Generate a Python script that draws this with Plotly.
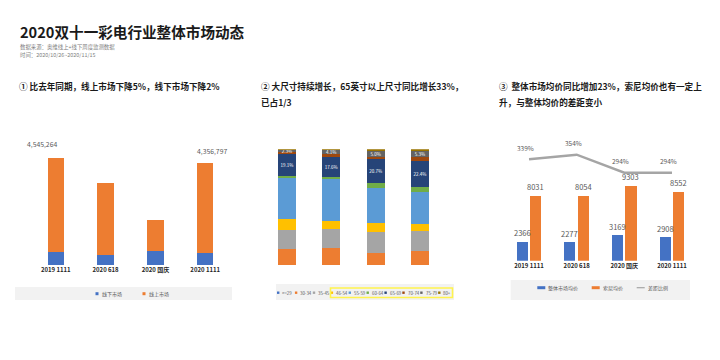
import plotly.graph_objects as go

# ---------------- data ----------------
categories = ["2019 1111", "2020 618", "2020 国庆", "2020 1111"]

# panel 1: market volume (units)
offline_units = [540000, 440000, 595000, 525000]
online_units = [4005264, 3073000, 1330000, 3831797]
total_label_idx = [0, 3]

# panel 2: size share (%)
size_labels = ["<=29", "30-34", "35-45", "46-54", "55-59", "60-64", "65-69", "70-74", "75-79", "80+"]
share_le29 = [0.3, 0.3, 0.3, 0.3]
share_30_34 = [13.2, 14.2, 10.2, 11.7]
share_35_45 = [17.0, 17.0, 17.8, 17.0]
share_46_54 = [9.0, 6.5, 8.0, 6.4]
share_55_59 = [36.0, 36.0, 30.0, 27.7]
share_60_64 = [1.0, 2.0, 4.3, 4.3]
share_65_69 = [19.1, 17.6, 20.7, 22.4]
share_70_74 = [1.8, 2.0, 2.0, 3.7]
share_75_79 = [2.3, 4.1, 5.0, 5.3]
share_80p = [0.3, 0.3, 1.7, 1.2]
size_shares = [share_le29, share_30_34, share_35_45, share_46_54, share_55_59,
               share_60_64, share_65_69, share_70_74, share_75_79, share_80p]
labelled_sizes = ["65-69", "75-79"]

# panel 3: average prices
avg_all = [2366, 2277, 3169, 2908]
avg_sony = [8031, 8054, 9303, 8552]
gap_ratio = [339, 354, 294, 294]

# ---------------- styling ----------------
W, H = 720, 360
FONT = "Noto Sans CJK SC"
BLUE, ORANGE, GRAY = "#4472C4", "#ED7D31", "#A5A5A5"
SIZE_COLORS = ["#4472C4", "#ED7D31", "#A5A5A5", "#FFC000", "#5B9BD5",
               "#70AD47", "#264478", "#9E480E", "#636363", "#997300"]
TXT = "#595959"
CAT3_PX = 190.6 / 4          # pixel width of one category in panel 3
W_ALL, OFF_ALL = 0.23, -0.258
W_SONY, OFF_SONY = 0.24, 0.02


def px(x):
    return x / W


def py(y):
    return 1 - y / H


fig = go.Figure()

# ---- panel 1 ----
fig.add_trace(go.Bar(x=categories, y=offline_units, name="线下市场", marker_color=BLUE,
                     width=0.33, xaxis="x", yaxis="y", showlegend=False))
fig.add_trace(go.Bar(x=categories, y=online_units, name="线上市场", marker_color=ORANGE,
                     width=0.33, xaxis="x", yaxis="y", showlegend=False))

# ---- panel 2 ----
for name, vals, col in zip(size_labels, size_shares, SIZE_COLORS):
    show = name in labelled_sizes
    fig.add_trace(go.Bar(
        x=categories, y=vals, name=name, marker_color=col, width=0.41,
        xaxis="x2", yaxis="y2", showlegend=False,
        text=[f"{v:.1f}%" for v in vals] if show else None,
        textposition="inside" if show else "none", textangle=0,
        insidetextanchor="middle", constraintext="none",
        textfont=dict(size=4.5, color="white", family=FONT),
    ))

# ---- panel 3 ----
fig.add_trace(go.Bar(x=categories, y=avg_all, name="整体市场均价", marker_color=BLUE,
                     width=W_ALL, offset=OFF_ALL, xaxis="x3", yaxis="y3", showlegend=False))
fig.add_trace(go.Bar(x=categories, y=avg_sony, name="索尼均价", marker_color=ORANGE,
                     width=W_SONY, offset=OFF_SONY, xaxis="x4", yaxis="y3", showlegend=False))
fig.add_trace(go.Scatter(x=categories, y=gap_ratio, name="差距比例", mode="lines",
                         line=dict(color=GRAY, width=2.5), xaxis="x3", yaxis="y4",
                         cliponaxis=False, showlegend=False))

hidden = dict(showgrid=False, zeroline=False, showline=False, showticklabels=False, ticks="")
xcat = dict(showgrid=False, zeroline=False, showline=False, ticks="",
            tickfont=dict(size=6, color="#262626", family=FONT, weight="bold"),
            range=[-0.5, 3.5], type="category", fixedrange=True)

fig.update_layout(
    template="none",
    width=W, height=H, autosize=False,
    margin=dict(l=0, r=0, t=0, b=0),
    paper_bgcolor="white", plot_bgcolor="rgba(0,0,0,0)",
    barmode="stack",
    font=dict(family=FONT, color=TXT),
    xaxis=dict(**xcat, domain=[px(30.9), px(230.1)], anchor="y"),
    yaxis=dict(**hidden, domain=[py(265), py(140)], range=[0, 5325000], anchor="x"),
    xaxis2=dict(**{**xcat, "showticklabels": False}, domain=[px(264.8), px(442.1)], anchor="y2"),
    yaxis2=dict(**hidden, domain=[py(265), py(149.3)], range=[0, 100], anchor="x2"),
    xaxis3=dict(**xcat, domain=[px(505.2), px(695.8)], anchor="y3"),
    yaxis3=dict(**hidden, domain=[py(260.7), py(140)], range=[0, 14979], anchor="x3"),
    xaxis4=dict(**{**xcat, "showticklabels": False}, domain=[px(505.2), px(695.8)],
                overlaying="x3", anchor="y3"),
    yaxis4=dict(**hidden, range=[0, 403], overlaying="y3", anchor="x3"),
)

ann = []
shapes = []

# titles
ann.append(dict(text="<b>2020双十一彩电行业整体市场动态</b>", x=px(18), y=py(31.5),
                font=dict(size=14.6, color="#1A1A1A")))
ann.append(dict(text="数据来源：奥维线上+线下周度监测数据", x=px(18), y=py(46.6),
                font=dict(size=5.4, color="#7F7F7F")))
ann.append(dict(text="时间：2020/10/26~2020/11/15", x=px(18), y=py(54.8),
                font=dict(size=5.4, color="#7F7F7F")))
ann.append(dict(text="<b>① 比去年同期，线上市场下降5%，线下市场下降2%</b>", x=px(17), y=py(85.7),
                font=dict(size=8.6, color="#1A1A1A")))
ann.append(dict(text="<b>② 大尺寸持续增长，65英寸以上尺寸同比增长33%，</b>", x=px(259), y=py(85.7),
                font=dict(size=8.6, color="#1A1A1A")))
ann.append(dict(text="<b>已占1/3</b>", x=px(259), y=py(102),
                font=dict(size=8.6, color="#1A1A1A")))
ann.append(dict(text="<b>③  整体市场均价同比增加23%，索尼均价也有一定上</b>", x=px(496.5), y=py(86),
                font=dict(size=8.6, color="#1A1A1A")))
ann.append(dict(text="<b>升，与整体均价的差距变小</b>", x=px(496.5), y=py(102),
                font=dict(size=8.6, color="#1A1A1A")))
for a in ann:
    a.update(xref="paper", yref="paper", xanchor="left", yanchor="middle", showarrow=False)

# panel 1 total labels
shifts = {0: (-14, 7), 3: (7, 5)}
for i in total_label_idx:
    total = offline_units[i] + online_units[i]
    xs, ys = shifts[i]
    ann.append(dict(text=f"{total:,}", x=categories[i], y=total, xref="x", yref="y",
                    xanchor="center", yanchor="bottom", xshift=xs, yshift=ys, showarrow=False,
                    font=dict(size=6.8, color=TXT)))

# panel 3 value labels
for vals, w, off in [(avg_all, W_ALL, OFF_ALL), (avg_sony, W_SONY, OFF_SONY)]:
    for c, v in zip(categories, vals):
        ann.append(dict(text=str(v), x=c, y=v, xref="x3", yref="y3",
                        xanchor="center", yanchor="bottom", xshift=(off + w / 2) * CAT3_PX,
                        yshift=1.5, showarrow=False, font=dict(size=7.5, color=TXT)))
for c, v in zip(categories, gap_ratio):
    ann.append(dict(text=f"{v}%", x=c, y=v, xref="x3", yref="y4",
                    xanchor="center", yanchor="bottom", xshift=-3.5, yshift=4.5,
                    showarrow=False, font=dict(size=6.5, color=TXT)))

# panel 1 legend
shapes.append(dict(type="rect", xref="paper", yref="paper", x0=px(15), x1=px(232),
                   y0=py(300), y1=py(287), fillcolor="#F2F2F2", line_width=0, layer="below"))
for k, (nm, col) in enumerate([("线下市场", BLUE), ("线上市场", ORANGE)]):
    x0 = 95.5 + k * 47
    shapes.append(dict(type="rect", xref="paper", yref="paper", x0=px(x0), x1=px(x0 + 3),
                       y0=py(295.2), y1=py(292.2), fillcolor=col, line_width=0))
    ann.append(dict(text=nm, x=px(x0 + 4.5), y=py(293.7), xref="paper", yref="paper",
                    xanchor="left", yanchor="middle", showarrow=False,
                    font=dict(size=5, color=TXT)))

# panel 2 legend
shapes.append(dict(type="rect", xref="paper", yref="paper", x0=px(276), x1=px(454),
                   y0=py(300), y1=py(284), fillcolor="#F2F2F2", line_width=0, layer="below"))
for k, (nm, col) in enumerate(zip(size_labels, SIZE_COLORS)):
    x0 = 277 + k * 17.9
    shapes.append(dict(type="rect", xref="paper", yref="paper", x0=px(x0), x1=px(x0 + 2.4),
                       y0=py(293.9), y1=py(291.5), fillcolor=col, line_width=0))
    ann.append(dict(text=nm, x=px(x0 + 3.3), y=py(292.7), xref="paper", yref="paper",
                    xanchor="left", yanchor="middle", showarrow=False,
                    font=dict(size=4.4, color=TXT)))
shapes.append(dict(type="rect", xref="paper", yref="paper", x0=px(330.5), x1=px(452.5),
                   y0=py(297.5), y1=py(288), line=dict(color="#FFF34D", width=1.6),
                   fillcolor="rgba(0,0,0,0)"))

# panel 3 legend
shapes.append(dict(type="rect", xref="paper", yref="paper", x0=px(510.7), x1=px(690),
                   y0=py(300), y1=py(280), fillcolor="#F2F2F2", line_width=0, layer="below"))
leg3 = [("整体市场均价", BLUE, 537.3), ("索尼均价", ORANGE, 591.7), ("差距比例", GRAY, 636.7)]
for nm, col, x0 in leg3:
    if nm == "差距比例":
        shapes.append(dict(type="line", xref="paper", yref="paper", x0=px(x0), x1=px(x0 + 8),
                           y0=py(287.7), y1=py(287.7), line=dict(color=col, width=1.2)))
    else:
        shapes.append(dict(type="rect", xref="paper", yref="paper", x0=px(x0), x1=px(x0 + 8),
                           y0=py(289.2), y1=py(286.2), fillcolor=col, line_width=0))
    ann.append(dict(text=nm, x=px(x0 + 9), y=py(287.7), xref="paper", yref="paper",
                    xanchor="left", yanchor="middle", showarrow=False,
                    font=dict(size=5, color=TXT)))

fig.update_layout(annotations=ann, shapes=shapes)
fig.write_html("out.html", config={"displayModeBar": False},
               post_script="document.body.style.margin='0px';")
